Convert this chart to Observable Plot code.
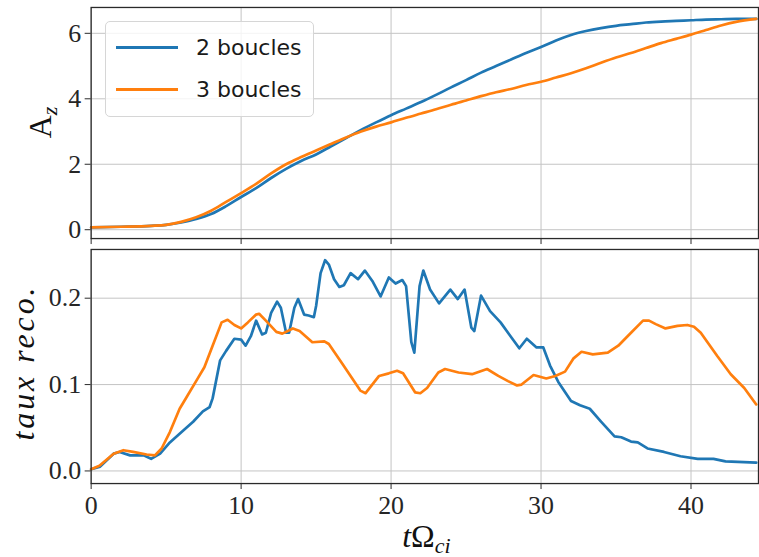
<!DOCTYPE html>
<html>
<head>
<meta charset="utf-8">
<script src="https://cdn.jsdelivr.net/npm/d3@7"></script>
<script src="https://cdn.jsdelivr.net/npm/@observablehq/plot@0.6"></script>
<style>
  html, body { margin: 0; padding: 0; background: #fff; overflow: hidden; }
  #wrap { position: relative; width: 759px; height: 557px; overflow: hidden; }
  #wrap svg { display: block; }
  #legend {
    position: absolute; left: 105px; top: 21px; width: 207px; height: 94px;
    border: 1px solid #d6d6d6; border-radius: 5px; background: rgba(255,255,255,0.8);
    font-family: "DejaVu Sans", sans-serif; font-size: 22px; color: #1a1a1a;
  }
  .entry { position: absolute; left: 10px; height: 30px; display: flex; align-items: center; }
  .swatch { width: 62px; height: 3px; margin-right: 18px; }
</style>
</head>
<body>
<div id="wrap"></div>
<script>
// ---- data ----
const seriesNames = ["2 boucles", "3 boucles"];
const seriesColors = ["#1f77b4", "#ff7f0e"];
const xTicks = [0, 10, 20, 30, 40];
const azTicks = [0, 2, 4, 6];
const recoTicks = [0.0, 0.1, 0.2];

// A_z (top panel)
const azT = [0, 2, 4, 5, 6, 7, 8, 9, 10, 11, 12, 13, 14, 15, 16, 17, 18, 19, 20, 21, 22, 23, 24, 25, 26, 27, 28, 29, 30, 31, 32, 33, 34, 35, 36, 37, 38, 39, 40, 41, 42, 43, 44.35];
const az2 = [0.07, 0.09, 0.12, 0.15, 0.22, 0.33, 0.48, 0.72, 1.0, 1.27, 1.58, 1.86, 2.1, 2.3, 2.55, 2.8, 3.05, 3.28, 3.5, 3.7, 3.9, 4.12, 4.35, 4.57, 4.8, 5.0, 5.2, 5.4, 5.58, 5.78, 5.95, 6.07, 6.16, 6.23, 6.28, 6.33, 6.36, 6.38, 6.4, 6.42, 6.43, 6.44, 6.44];
const az3 = [0.07, 0.09, 0.12, 0.15, 0.24, 0.38, 0.58, 0.85, 1.12, 1.4, 1.72, 2.0, 2.22, 2.42, 2.62, 2.82, 3.0, 3.15, 3.28, 3.42, 3.55, 3.68, 3.82, 3.95, 4.08, 4.2, 4.3, 4.42, 4.52, 4.65, 4.78, 4.93, 5.1, 5.26, 5.4, 5.55, 5.7, 5.83, 5.96, 6.1, 6.24, 6.35, 6.44];

// taux reco. (bottom panel), 2 boucles
const reco2T = [
  0, 0.6, 1.5, 1.9, 2.6, 3.5, 4.0, 4.6, 5.25, 5.9,
  6.8, 7.45, 7.9, 8.1, 8.35, 8.6, 9.0, 9.55, 10.0, 10.3,
  10.65, 11.0, 11.4, 11.65, 12.0, 12.4, 12.65, 13.0, 13.2, 13.55,
  13.8, 14.2, 14.5, 14.85, 15.0, 15.3, 15.6, 15.85, 16.2, 16.55,
  16.85, 17.3, 17.8, 18.25, 18.75, 19.3, 19.85, 20.3, 20.75, 21.0,
  21.35, 21.55, 21.9, 22.15, 22.6, 23.2, 23.95, 24.45, 24.9, 25.35,
  25.55, 26.0, 26.6, 27.3, 28.05, 28.55, 29.05, 29.7, 30.15, 30.6,
  31.15, 32.0, 32.6, 33.25, 34.0, 34.9, 35.35, 36.0, 36.45, 37.1,
  38.2, 39.3, 40.45, 41.5, 42.3, 44.35];
const reco2 = [
  0.002, 0.005, 0.020, 0.022, 0.018, 0.018, 0.014, 0.020, 0.033, 0.043,
  0.057, 0.069, 0.074, 0.084, 0.106, 0.128, 0.139, 0.153, 0.152, 0.145,
  0.156, 0.174, 0.158, 0.160, 0.183, 0.196, 0.189, 0.160, 0.160, 0.189,
  0.199, 0.181, 0.180, 0.178, 0.191, 0.229, 0.244, 0.239, 0.222, 0.213,
  0.215, 0.229, 0.222, 0.232, 0.220, 0.202, 0.224, 0.217, 0.221, 0.214,
  0.149, 0.137, 0.214, 0.232, 0.210, 0.194, 0.210, 0.199, 0.210, 0.166,
  0.162, 0.203, 0.185, 0.172, 0.154, 0.142, 0.153, 0.143, 0.143, 0.122,
  0.103, 0.081, 0.076, 0.072, 0.057, 0.040, 0.039, 0.034, 0.033, 0.026,
  0.022, 0.017, 0.014, 0.014, 0.011, 0.0096];

// taux reco., 3 boucles
const reco3T = [
  0, 0.55, 1.5, 2.15, 2.8, 3.7, 4.25, 4.7, 5.25, 5.9,
  6.35, 7.0, 7.55, 8.1, 8.7, 9.1, 9.55, 10.0, 10.45, 11.0,
  11.2, 11.65, 12.35, 12.75, 13.45, 13.9, 14.75, 15.55, 15.85, 16.75,
  17.3, 17.95, 18.3, 19.2, 19.85, 20.4, 20.8, 21.6, 21.95, 22.4,
  23.15, 23.6, 24.5, 25.4, 26.4, 27.15, 27.8, 28.4, 28.7, 29.5,
  30.35, 30.95, 31.6, 32.15, 32.7, 33.45, 34.45, 35.15, 36.0, 36.8,
  37.2, 37.65, 38.3, 39.1, 39.75, 40.2, 40.65, 41.75, 42.65, 43.55, 44.35];
const reco3 = [
  0.002, 0.006, 0.020, 0.024, 0.022, 0.019, 0.018, 0.026, 0.045, 0.072,
  0.085, 0.104, 0.120, 0.145, 0.172, 0.175, 0.169, 0.165, 0.172, 0.181,
  0.182, 0.174, 0.161, 0.159, 0.165, 0.162, 0.149, 0.150, 0.147, 0.124,
  0.110, 0.093, 0.090, 0.110, 0.113, 0.116, 0.113, 0.091, 0.090, 0.096,
  0.114, 0.118, 0.114, 0.112, 0.118, 0.110, 0.104, 0.099, 0.100, 0.111,
  0.107, 0.110, 0.115, 0.130, 0.138, 0.135, 0.137, 0.145, 0.160, 0.174,
  0.174, 0.170, 0.165, 0.168, 0.169, 0.167, 0.160, 0.133, 0.112, 0.096, 0.077];

// ---- build tables ----
const zip = (ts, vs, s) => ts.map((t, i) => ({t, v: vs[i], s}));
const azData = [...zip(azT, az2, seriesNames[0]), ...zip(azT, az3, seriesNames[1])];
const recoData = [...zip(reco2T, reco2, seriesNames[0]), ...zip(reco3T, reco3, seriesNames[1])];

const W = 762;
const xDomain = [0, 44.5];
const gridStroke = "#c4c4c4";
const axisStroke = "#2a2a2a";
const SERIF = "Liberation Serif";
const TICKFS = 26;
const colorScale = {domain: seriesNames, range: seriesColors};
const tickText = {fontFamily: SERIF, fontSize: TICKFS, fill: "#262626"};

const topPlot = Plot.plot({
  width: W, height: 245,
  marginLeft: 91, marginRight: 1, marginTop: 7, marginBottom: 6,
  style: {background: "transparent", overflow: "visible"},
  x: {domain: xDomain},
  y: {domain: [-0.27, 6.79]},
  color: colorScale,
  marks: [
    Plot.gridX(xTicks, {stroke: gridStroke, strokeOpacity: 1, strokeWidth: 1}),
    Plot.gridY(azTicks, {stroke: gridStroke, strokeOpacity: 1, strokeWidth: 1}),
    Plot.line(azData, {x: "t", y: "v", z: "s", stroke: "s", strokeWidth: 2.7, curve: "monotone-x"}),
    Plot.axisX({ticks: xTicks, tickFormat: () => "", tickSize: 6, stroke: axisStroke, label: null}),
    Plot.axisY({ticks: azTicks, tickFormat: () => "", tickSize: 6, stroke: axisStroke, label: null}),
    Plot.text(azTicks, {y: d => d, text: d3.format("d"), frameAnchor: "left", dx: -10, textAnchor: "end", ...tickText}),
    Plot.frame({stroke: axisStroke, strokeWidth: 1.3})
  ]
});

const bottomPlot = Plot.plot({
  width: W, height: 312,
  marginLeft: 91, marginRight: 1, marginTop: 5, marginBottom: 72,
  style: {background: "transparent", overflow: "visible"},
  x: {domain: xDomain},
  y: {domain: [-0.0146, 0.2564]},
  color: colorScale,
  marks: [
    Plot.gridX(xTicks, {stroke: gridStroke, strokeOpacity: 1, strokeWidth: 1}),
    Plot.gridY(recoTicks, {stroke: gridStroke, strokeOpacity: 1, strokeWidth: 1}),
    Plot.line(recoData, {x: "t", y: "v", z: "s", stroke: "s", strokeWidth: 2.7, curve: "linear"}),
    Plot.axisX({ticks: xTicks, tickFormat: () => "", tickSize: 6, stroke: axisStroke, label: null}),
    Plot.axisY({ticks: recoTicks, tickFormat: () => "", tickSize: 6, stroke: axisStroke, label: null}),
    Plot.text(xTicks, {x: d => d, text: d3.format("d"), frameAnchor: "bottom", dy: 22, lineAnchor: "middle", ...tickText}),
    Plot.text(recoTicks, {y: d => d, text: d3.format(".1f"), frameAnchor: "left", dx: -10, textAnchor: "end", ...tickText}),
    Plot.frame({stroke: axisStroke, strokeWidth: 1.3})
  ]
});

const wrap = document.getElementById("wrap");
wrap.appendChild(topPlot);
wrap.appendChild(bottomPlot);

// axis titles
const tsel = d3.select(topPlot);
const azLabel = tsel.append("text")
  .attr("transform", "translate(51,123) rotate(-90)")
  .attr("text-anchor", "middle")
  .style("font-family", SERIF).style("font-size", "32px").attr("fill", "#111");
azLabel.append("tspan").text("A");
azLabel.append("tspan").style("font-style", "italic").style("font-size", "22px").attr("dy", 6).text("z");

const bsel = d3.select(bottomPlot);
bsel.append("text")
  .attr("transform", "translate(34,119) rotate(-90)")
  .attr("text-anchor", "middle")
  .style("font-family", SERIF).style("font-size", "32px").style("font-style", "italic")
  .style("letter-spacing", "3px")
  .attr("fill", "#111")
  .text("taux reco.");

const xl = bsel.append("text")
  .attr("transform", "translate(428,304)")
  .attr("text-anchor", "middle")
  .style("font-family", SERIF).style("font-size", "32px").attr("fill", "#111");
xl.append("tspan").style("font-style", "italic").text("t");
xl.append("tspan").text("Ω");
xl.append("tspan").style("font-style", "italic").style("font-size", "22px").attr("dy", 6).text("ci");

// legend
const legend = document.createElement("div");
legend.id = "legend";
seriesNames.forEach((name, i) => {
  const e = document.createElement("div");
  e.className = "entry";
  e.style.top = (10 + i * 42) + "px";
  const sw = document.createElement("span");
  sw.className = "swatch";
  sw.style.background = seriesColors[i];
  const tx = document.createElement("span");
  tx.textContent = name;
  e.appendChild(sw); e.appendChild(tx);
  legend.appendChild(e);
});
wrap.appendChild(legend);
</script>
</body>
</html>
